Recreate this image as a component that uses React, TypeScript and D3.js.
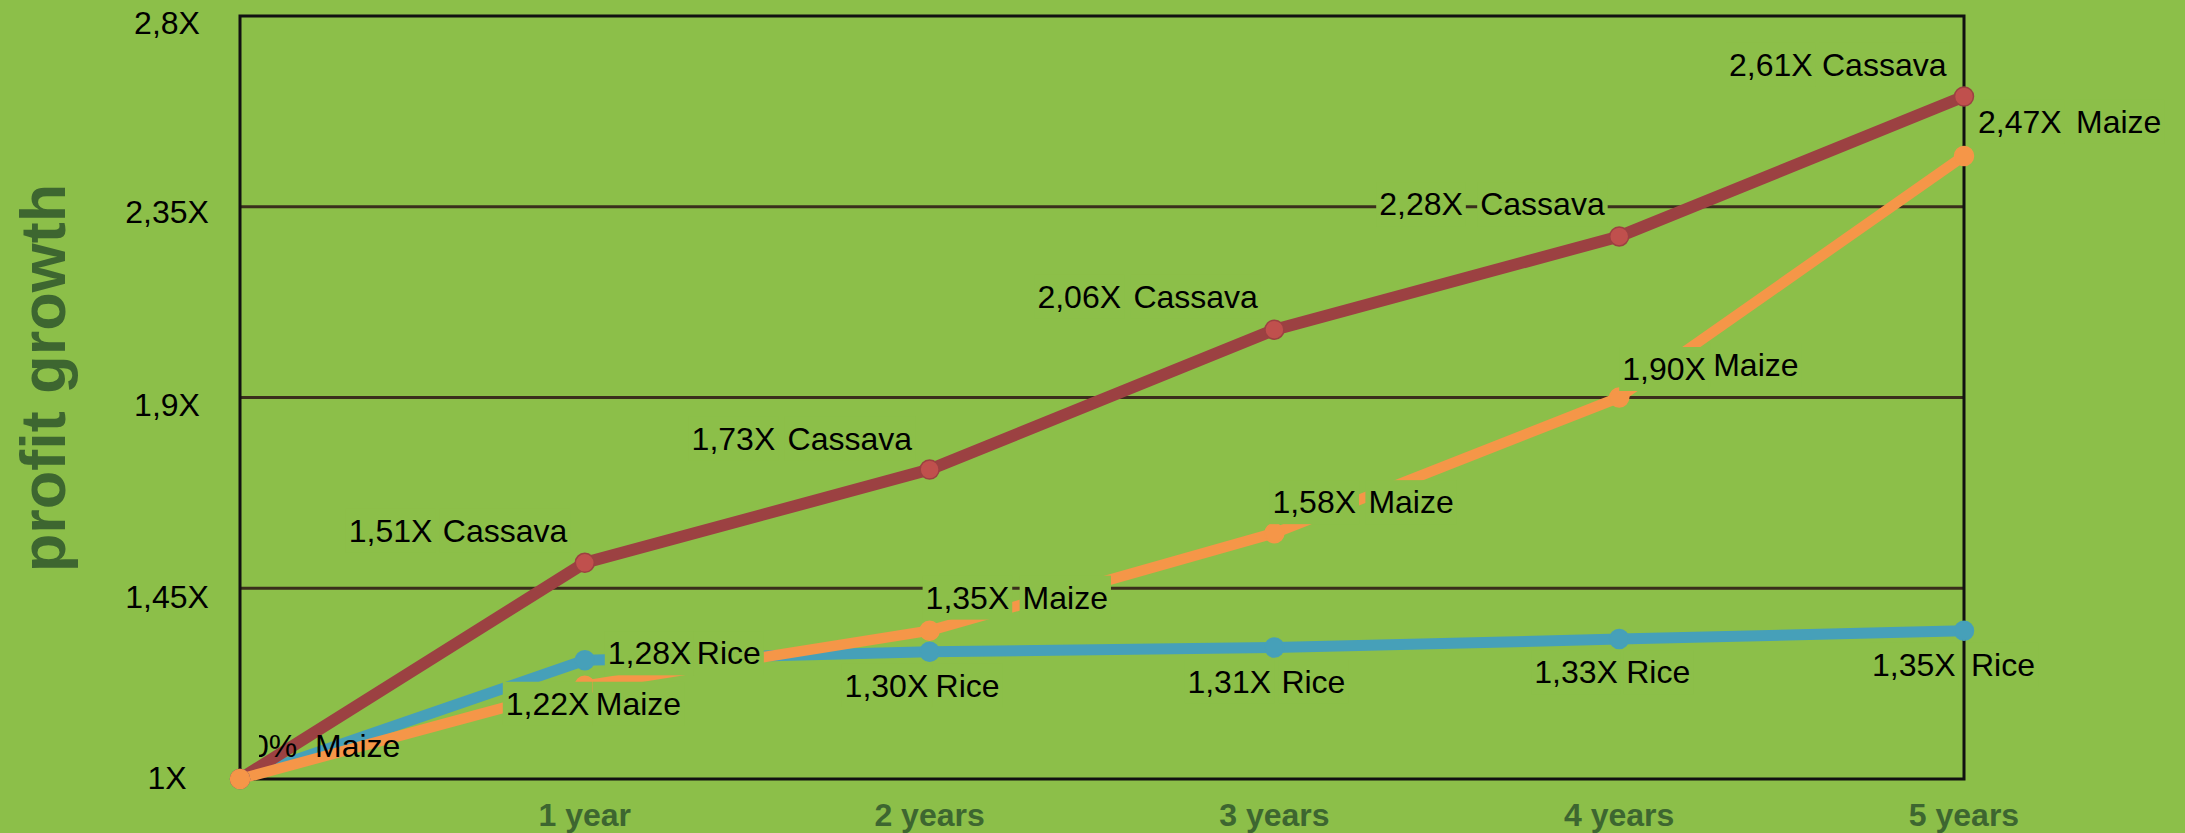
import React, { useEffect, useRef } from "react";
import * as d3 from "d3";

const W = 2185;
const H = 833;

// ---- data ----
const periods = [0, 1, 2, 3, 4, 5];
const periodLabels = ["", "1 year", "2 years", "3 years", "4 years", "5 years"];
const seriesNames = ["Rice", "Cassava", "Maize"];
const rice = [1, 1.28, 1.3, 1.31, 1.33, 1.35];
const cassava = [1, 1.51, 1.73, 2.06, 2.28, 2.61];
const maize = [1, 1.22, 1.35, 1.58, 1.9, 2.47];
const yTicks = [1, 1.45, 1.9, 2.35, 2.8];
const yTickLabels = ["1X", "1,45X", "1,9X", "2,35X", "2,8X"];
const maizeStartLabel = "0%";
const yTitle = "profit growth";

// ---- layout ----
// baseline offset of each y tick label below its gridline
const yTickBaseline = [10, 20, 18, 16, 18];
// label offsets relative to their point: value-part dx, name-part dx, baseline dy, optional name dy
type Lay = [number, number, number, number?] | null;
const riceLayout: Lay[] = [null, [23, 112, 4], [-85, 6, 45], [-87, 7, 45], [-85, 7, 44], [-92, 7, 45]];
const cassavaLayout: Lay[] = [null, [-236, -142, -21], [-238, -142, -20], [-237, -141, -22], [-240, -139, -21], [-235, -142, -21]];
const maizeLayout: Lay[] = [[11, 75, -22], [-79, 11, 29], [-4, 93, -22], [-2, 94, -20], [3, 94, -17.5, -21.5], [14, 112, -23]];

const BG = "#8CBF49";
const DARK_GREEN = "#3D6630";
const FONT = "'Liberation Sans', Arial, Helvetica, sans-serif";

export default function App() {
  const ref = useRef<SVGSVGElement>(null);

  useEffect(() => {
    document.body.style.margin = "0";
    document.body.style.background = BG;
    const svg = d3.select(ref.current);
    svg.selectAll("*").remove();

    const x = d3.scaleLinear().domain([0, 5]).range([240, 1964]);
    const y = d3.scaleLinear().domain([1, 2.8]).range([779, 16]);

    svg.append("rect").attr("x", 0).attr("y", 0).attr("width", W).attr("height", H).attr("fill", BG);

    // gridlines
    svg
      .append("g")
      .selectAll("line")
      .data(yTicks.filter((t) => t > 1 && t < 2.8))
      .join("line")
      .attr("x1", x(0))
      .attr("x2", x(5))
      .attr("y1", (d) => y(d))
      .attr("y2", (d) => y(d))
      .attr("stroke", "#3A2E1C")
      .attr("stroke-width", 3);

    // frame
    svg
      .append("rect")
      .attr("x", x(0))
      .attr("y", y(2.8))
      .attr("width", x(5) - x(0))
      .attr("height", y(1) - y(2.8))
      .attr("fill", "none")
      .attr("stroke", "#111")
      .attr("stroke-width", 3);

    // y tick labels
    svg
      .append("g")
      .selectAll("text")
      .data(yTicks)
      .join("text")
      .attr("x", 167)
      .attr("y", (d, i) => y(d) + yTickBaseline[i])
      .attr("text-anchor", "middle")
      .attr("font-family", FONT)
      .attr("font-size", 32)
      .attr("fill", "#000")
      .text((d, i) => yTickLabels[i]);

    // x labels
    svg
      .append("g")
      .selectAll("text")
      .data(periods.filter((p) => periodLabels[p] !== ""))
      .join("text")
      .attr("x", (d) => x(d))
      .attr("y", 826)
      .attr("text-anchor", "middle")
      .attr("font-family", FONT)
      .attr("font-weight", "bold")
      .attr("font-size", 32)
      .attr("fill", DARK_GREEN)
      .text((d) => periodLabels[d]);

    // y title
    svg
      .append("text")
      .attr("transform", `translate(65,378) rotate(-90)`)
      .attr("text-anchor", "middle")
      .attr("font-family", FONT)
      .attr("font-weight", "bold")
      .attr("font-size", 63)
      .attr("fill", DARK_GREEN)
      .text(yTitle);

    const series = [
      { name: seriesNames[0], values: rice, line: "#46A0B9", dot: "#46A0B9", dotStroke: "#46A0B9", width: 11, layout: riceLayout },
      { name: seriesNames[1], values: cassava, line: "#9C4142", dot: "#C0504D", dotStroke: "#9C4142", width: 12, layout: cassavaLayout },
      { name: seriesNames[2], values: maize, line: "#F59648", dot: "#F59648", dotStroke: "#F59648", width: 10.5, layout: maizeLayout },
    ];

    const lineGen = d3
      .line<number>()
      .x((d, i) => x(periods[i]))
      .y((d) => y(d));

    const linesG = svg.append("g");
    series.forEach((s) => {
      linesG
        .append("path")
        .attr("d", lineGen(s.values))
        .attr("fill", "none")
        .attr("stroke", s.line)
        .attr("stroke-width", s.width)
        .attr("stroke-linejoin", "round");
    });
    series.forEach((s) => {
      linesG
        .append("g")
        .selectAll("circle")
        .data(s.values)
        .join("circle")
        .attr("cx", (d, i) => x(periods[i]))
        .attr("cy", (d) => y(d))
        .attr("r", 9.5)
        .attr("fill", s.dot)
        .attr("stroke", s.dotStroke)
        .attr("stroke-width", 1.5);
    });

    // clip for the partly hidden start label
    const defs = svg.append("defs");
    defs
      .append("clipPath")
      .attr("id", "startClip")
      .append("rect")
      .attr("x", x(0) + 19)
      .attr("y", 0)
      .attr("width", W)
      .attr("height", H);

    const fmt = (v: number) => v.toFixed(2).replace(".", ",") + "X";
    const labelsG = svg.append("g");

    const part = (txt: string, tx: number, ty: number, boxed: boolean, clip?: string) => {
      const g = labelsG.append("g");
      if (clip) g.attr("clip-path", `url(#${clip})`);
      const rect = g.append("rect").attr("fill", BG);
      const t = g
        .append("text")
        .attr("x", tx)
        .attr("y", ty)
        .attr("font-family", FONT)
        .attr("font-size", 32)
        .attr("fill", "#000")
        .text(txt);
      const w = (t.node() as SVGTextElement).getComputedTextLength();
      if (boxed) {
        rect.attr("x", tx - 3).attr("y", ty - 33).attr("width", w + 6).attr("height", 44);
      } else rect.remove();
    };

    series.forEach((s) => {
      s.values.forEach((v, i) => {
        const lay = s.layout[i];
        if (!lay) return;
        const px = x(periods[i]);
        const py = y(v);
        const isStart = i === 0;
        const valText = isStart ? maizeStartLabel : fmt(v);
        part(valText, px + lay[0], py + lay[2], !isStart, isStart ? "startClip" : undefined);
        part(s.name, px + lay[1], py + (lay[3] ?? lay[2]), !isStart);
      });
    });
  }, []);

  return (
    <svg
      ref={ref}
      width={W}
      height={H}
      style={{ position: "absolute", left: 0, top: 0, display: "block" }}
    />
  );
}
